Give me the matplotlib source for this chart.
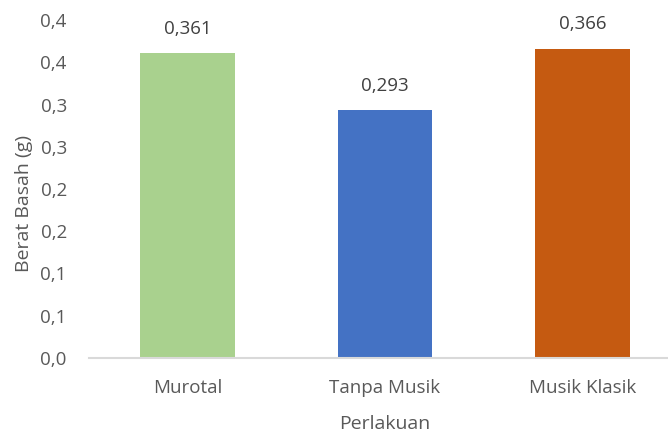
import matplotlib
matplotlib.use("Agg")
import matplotlib.pyplot as plt

categories = ["Murotal", "Tanpa Musik", "Musik Klasik"]
values = [0.361, 0.293, 0.366]
value_labels = ["0,361", "0,293", "0,366"]
colors = ["#A9D18E", "#4472C4", "#C55A11"]
yticks = [0.0, 0.05, 0.1, 0.15, 0.2, 0.25, 0.3, 0.35, 0.4]
ytick_labels = ["0,0", "0,1", "0,1", "0,2", "0,2", "0,3", "0,3", "0,4", "0,4"]

plt.rcParams['font.family'] = ['Open Sans', 'DejaVu Sans']
txt = "#595959"

fig = plt.figure(figsize=(6.68, 4.36), dpi=100)
ax = fig.add_axes([89/668, 1-358/436, 592/668, 338/436])
x = range(len(categories))
ax.bar(x, values, width=0.48, color=colors, zorder=2)
for i, (v, l) in enumerate(zip(values, value_labels)):
    ax.annotate(l, (i, v), xytext=(0, 11), textcoords="offset points",
                ha="center", va="bottom", fontsize=13.5, color="#404040")
ax.set_xlim(-0.5, 2.5)
ax.set_ylim(0, 0.4)
ax.set_yticks(yticks)
ax.set_yticklabels(ytick_labels)
ax.set_xticks(list(x))
ax.set_xticklabels(categories)
ax.tick_params(axis="both", length=0, labelsize=13.5, labelcolor=txt)
ax.tick_params(axis="y", pad=16)
ax.tick_params(axis="x", pad=15)
for s in ["top", "right", "left"]:
    ax.spines[s].set_visible(False)
ax.spines["bottom"].set_color("#D9D9D9")
ax.spines["bottom"].set_linewidth(1.5)
ax.set_ylabel("Berat Basah (g)", fontsize=14, color=txt, labelpad=5)
ax.yaxis.label.set_y(0.456)
ax.set_xlabel("Perlakuan", fontsize=14, color=txt, labelpad=13)
fig.savefig("out.png", dpi=100)
